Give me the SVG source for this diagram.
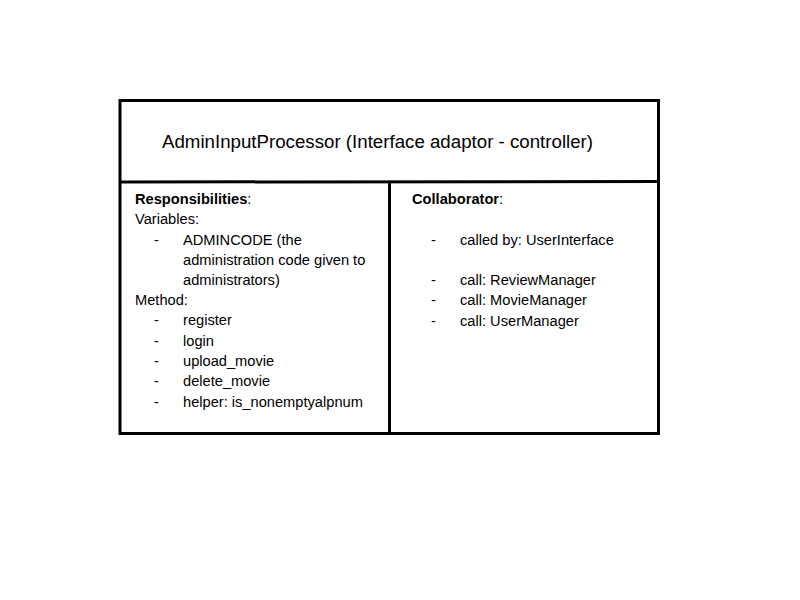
<svg xmlns="http://www.w3.org/2000/svg" width="800" height="600" viewBox="0 0 800 600">
<style>
.ln{stroke:#000;stroke-width:3;fill:none}
text{font-family:"Liberation Sans",Arial,sans-serif;fill:#000}
.t{font-size:18.7px}
.b{font-size:14.65px}
.bold{font-weight:bold}
</style>
<rect width="800" height="600" fill="#fff"/>
<g id="card">
<rect class="ln" x="120" y="100.5" width="538.5" height="333"/>
<line class="ln" x1="120" y1="182" x2="660" y2="181.5"/>
<line class="ln" x1="389.5" y1="183" x2="389.5" y2="433"/>
</g>
<g id="title">
<text class="t" x="162" y="148">AdminInputProcessor (Interface adaptor - controller)</text>
</g>
<g id="responsibilities">
<text class="b" x="135" y="204"><tspan class="bold">Responsibilities</tspan>:</text>
<text class="b" x="135" y="224">Variables:</text>
<text class="b" x="154" y="245">-</text><text class="b" x="183" y="245">ADMINCODE (the</text>
<text class="b" x="183" y="265">administration code given to</text>
<text class="b" x="183" y="285">administrators)</text>
<text class="b" x="135" y="305">Method:</text>
<text class="b" x="154" y="325">-</text><text class="b" x="183" y="325">register</text>
<text class="b" x="154" y="346">-</text><text class="b" x="183" y="346">login</text>
<text class="b" x="154" y="366">-</text><text class="b" x="183" y="366">upload_movie</text>
<text class="b" x="154" y="386">-</text><text class="b" x="183" y="386">delete_movie</text>
<text class="b" x="154" y="407">-</text><text class="b" x="183" y="407">helper: is_nonemptyalpnum</text>
</g>
<g id="collaborators">
<text class="b" x="412" y="204"><tspan class="bold">Collaborator</tspan>:</text>
<text class="b" x="431" y="245">-</text><text class="b" x="460" y="245">called by: UserInterface</text>
<text class="b" x="431" y="285">-</text><text class="b" x="460" y="285">call: ReviewManager</text>
<text class="b" x="431" y="305">-</text><text class="b" x="460" y="305">call: MovieManager</text>
<text class="b" x="431" y="326">-</text><text class="b" x="460" y="326">call: UserManager</text>
</g>
</svg>
